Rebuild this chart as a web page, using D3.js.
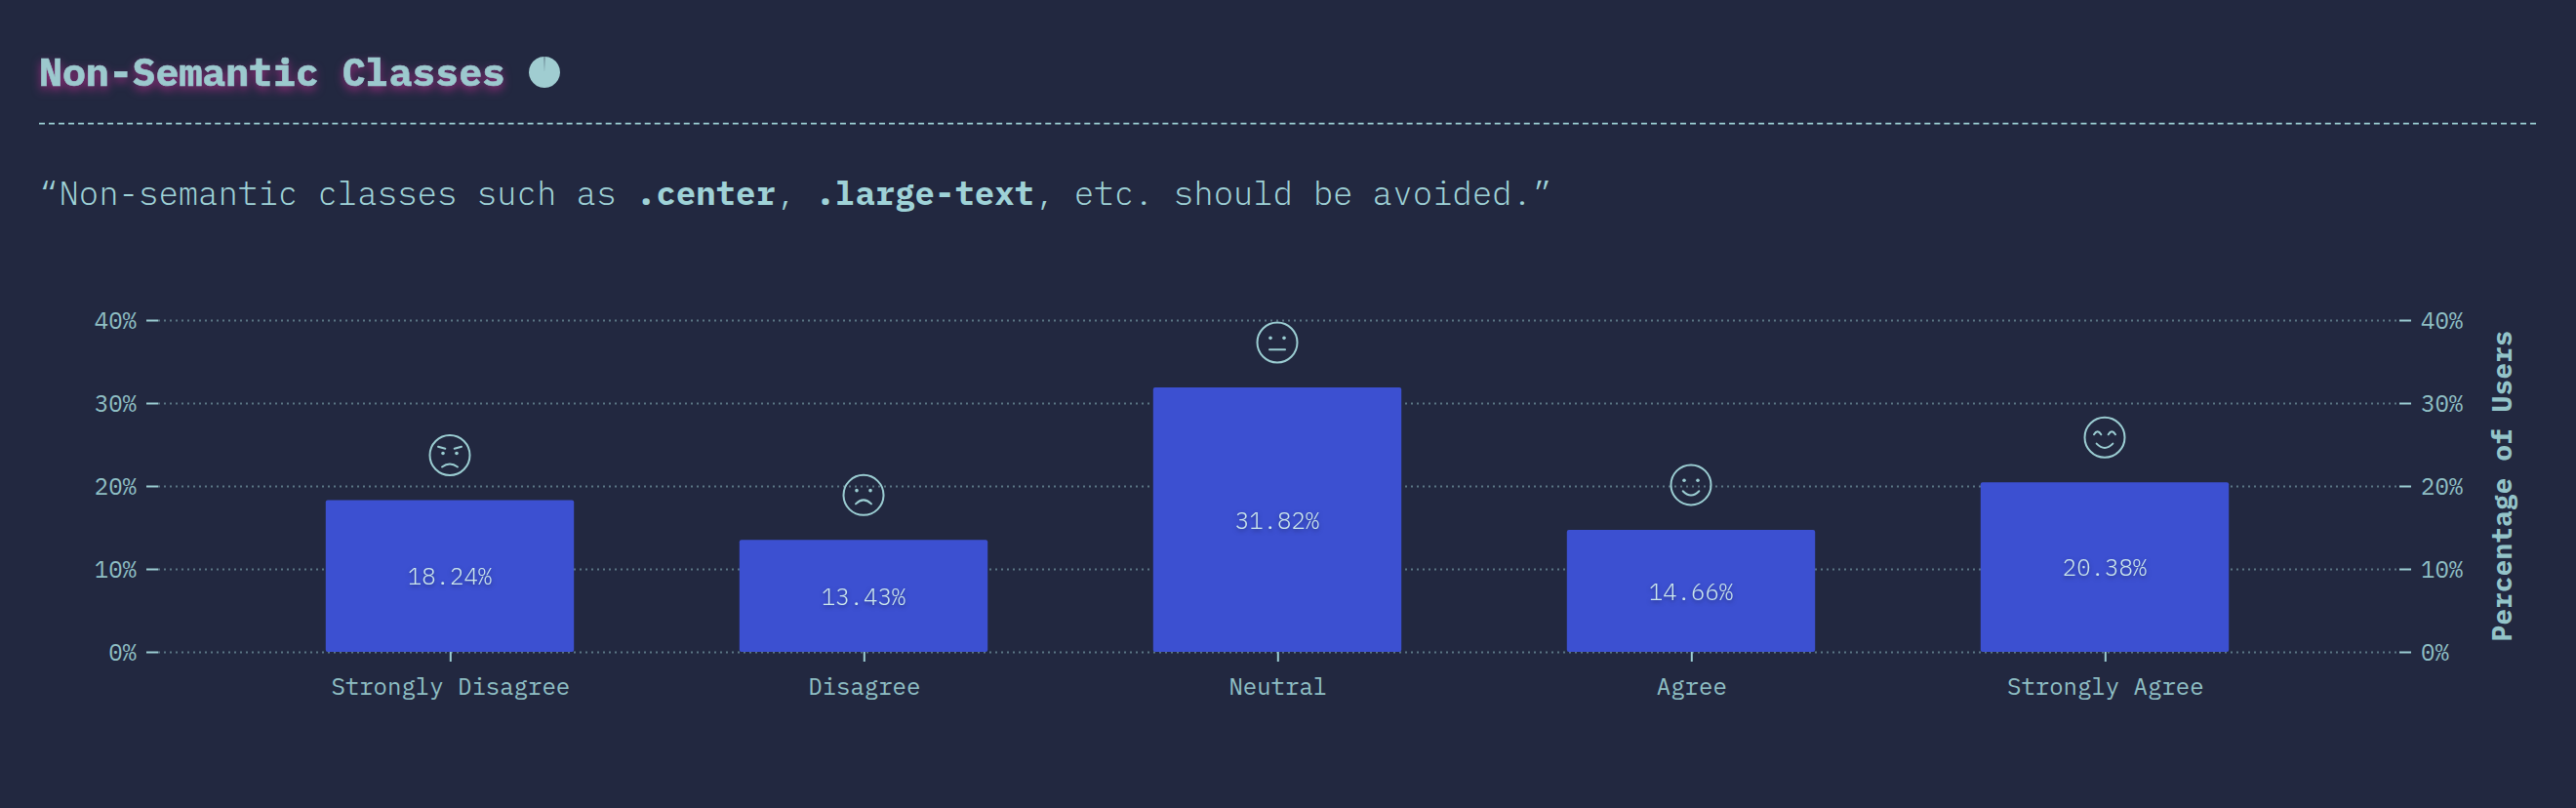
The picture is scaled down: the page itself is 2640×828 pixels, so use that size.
<!DOCTYPE html>
<html><head><meta charset="utf-8">
<script src="https://cdn.jsdelivr.net/npm/d3@7"></script>
<style>
html,body{margin:0;padding:0;background:#222840;overflow:hidden}
svg{display:block}
text{font-family:"IBM Plex Mono","Liberation Mono",monospace;fill:#9fd2d7}
.axis path.domain{display:none}
.axis line{stroke:#9bcdd2;stroke-width:2}
.axis text{font-size:24px;fill:#8fbfc4;font-weight:400}
.grid line{stroke:#94c4c9;stroke-width:2;stroke-dasharray:2 4;opacity:.5}
.grid path,.grid text{display:none}
.face *{fill:none;stroke:#9bcdd2;stroke-width:2;stroke-linecap:round}
.face .eye{fill:#9bcdd2;stroke:none}
</style></head><body>
<svg id="c" width="2640" height="828"></svg>
<script>
const categories=["Strongly Disagree","Disagree","Neutral","Agree","Strongly Agree"];
const values=[18.24,13.43,31.82,14.66,20.38];
const yTicks=[0,10,20,30,40];
const titleText="Non-Semantic Classes";
const quoteParts=[["“Non-semantic classes such as ",0],[".center",1],[", ",0],[".large-text",1],[", etc. should be avoided.”",0]];
const yTitle="Percentage of Users";
const faceMouths=["M-8 12Q0 6 8 12","M-8 9Q0 1 8 9","M-8 7.3L8 7.3","M-8.3 6.3Q0 15 8.3 6.3","M-8.3 6.3Q0 15 8.3 6.3"];

const svg=d3.select("#c");
const M={l:162,r:2459,t:328,b:668};
const x=d3.scaleBand().domain(categories).range([164.2,2453.8]).padding(0.4);
const y=d3.scaleLinear().domain([0,40]).range([M.b,M.t]);

// header
svg.append("text").attr("x",40).attr("y",88).attr("font-size",40).attr("font-weight",700).attr("letter-spacing",-0.1)
  .attr("stroke","#9cc9ce").attr("stroke-width",0.6)
  .style("fill","#9cc9ce").style("filter","drop-shadow(0 4px 5px rgba(170,45,135,.8))").text(titleText);
const pie=d3.arc().innerRadius(0).outerRadius(16).startAngle(0.02).endAngle(2*Math.PI-0.02);
svg.append("path").attr("transform","translate(558,74)").attr("d",pie()).attr("fill","#a0cdd1");
svg.append("line").attr("x1",40).attr("x2",2600).attr("y1",126.7).attr("y2",126.7)
  .attr("stroke","#9bcdd2").attr("stroke-width",1.7).attr("stroke-dasharray","6 4.012");
const q=svg.append("text").attr("x",40).attr("y",210).attr("font-size",34).style("white-space","pre");
q.selectAll("tspan").data(quoteParts).join("tspan")
  .attr("font-weight",d=>d[1]?700:300).text(d=>d[0]);

// grid
svg.append("g").attr("class","grid").attr("transform",`translate(${M.l},0)`)
  .call(d3.axisLeft(y).tickValues(yTicks).tickSize(-(M.r-M.l)));

// bars
const cx=c=>x(c)+x.bandwidth()/2;
const data=categories.map((c,i)=>({c,v:values[i],i}));
svg.append("g").selectAll("rect").data(data).join("rect")
  .attr("x",d=>x(d.c)).attr("width",x.bandwidth())
  .attr("y",d=>y(d.v)-0.5).attr("height",d=>y(0)-y(d.v)+0.5)
  .attr("rx",2).attr("fill","#3c50d1");
svg.append("g").selectAll("text").data(data).join("text")
  .attr("x",d=>cx(d.c)).attr("y",d=>(y(d.v)+y(0))/2+9).attr("text-anchor","middle")
  .attr("font-size",24).attr("font-weight",300).style("fill","#cde8ec")
  .style("filter","drop-shadow(0 2px 2px rgba(20,25,70,.5))")
  .text(d=>d.v.toFixed(2)+"%");

// axes
const fmt=d=>d+"%";
svg.append("g").attr("class","axis").attr("transform",`translate(${M.l},1)`)
  .call(d3.axisLeft(y).tickValues(yTicks).tickFormat(fmt).tickSize(12).tickPadding(10))
  .selectAll("line").attr("transform","translate(0,-1)");
svg.append("g").attr("class","axis").attr("transform",`translate(${M.r},1)`)
  .call(d3.axisRight(y).tickValues(yTicks).tickFormat(fmt).tickSize(12).tickPadding(10))
  .selectAll("line").attr("transform","translate(0,-1)");
svg.append("g").attr("class","axis").attr("transform",`translate(0.8,${M.b})`)
  .call(d3.axisBottom(x).tickSize(10).tickPadding(17));

svg.append("text").attr("transform",`translate(2574,${(M.t+M.b)/2}) rotate(-90)`)
  .attr("text-anchor","middle").attr("font-size",28).attr("font-weight",700).style("fill","#94c4c9").text(yTitle);

// faces
const faces=svg.append("g").selectAll("g").data(data).join("g").attr("class","face")
  .attr("transform",d=>`translate(${cx(d.c)},${y(d.v)-46.5})`);
faces.append("circle").attr("r",20.5);
faces.append("path").attr("d",d=>faceMouths[d.i]);
faces.filter(d=>d.i<4).selectAll("circle.eye").data(d=>[[-7,d.i===0?-2:-4.7],[7,d.i===0?-2:-4.7]])
  .join("circle").attr("class","eye").attr("cx",d=>d[0]).attr("cy",d=>d[1]).attr("r",1.8);
faces.filter(d=>d.i===0).append("path").attr("d","M-12 -8.7L-4.7 -6.7M12 -8.7L4.7 -6.7");
faces.filter(d=>d.i===4).append("path").attr("d","M-11 -3Q-7.3 -9 -3.7 -3M3.7 -3Q7.3 -9 11 -3");
</script>
</body></html>
